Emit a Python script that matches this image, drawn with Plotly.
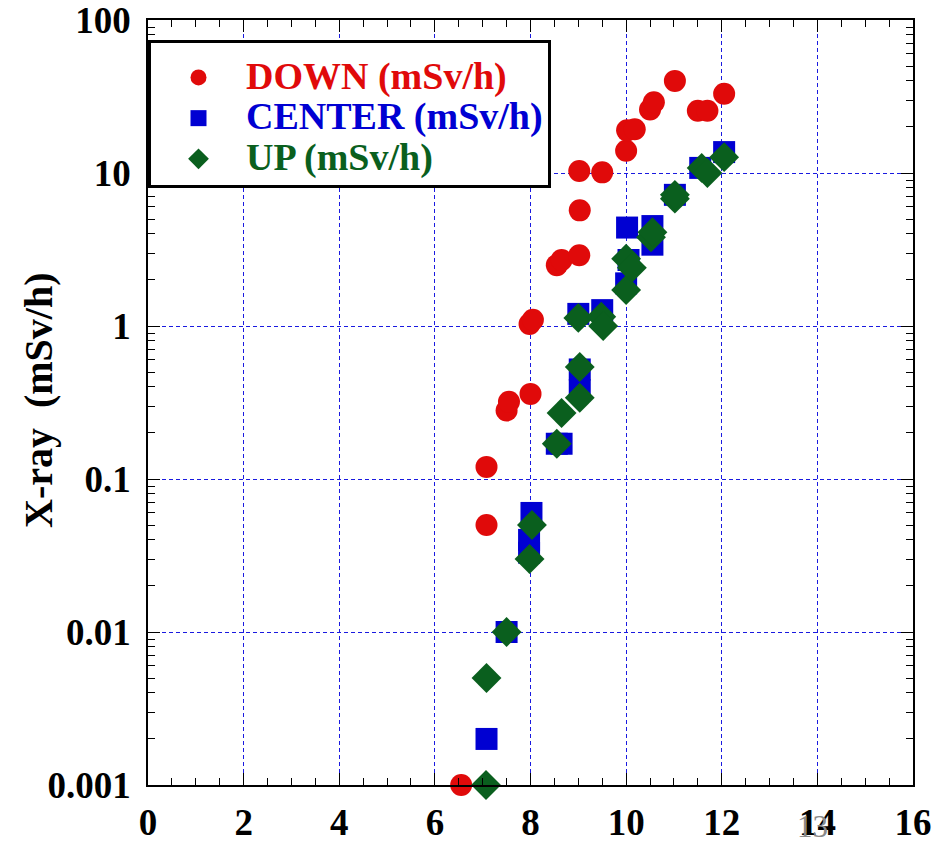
import plotly.graph_objects as go

# ---- data ----
down_x = [6.55, 7.08, 7.08, 7.5, 7.55, 8.0, 7.98, 8.05, 8.55, 8.65, 9.02, 9.03, 9.02,
          9.5, 10.0, 10.02, 10.18, 10.5, 10.58, 11.02, 11.5, 11.7, 12.05]
down_y = [0.001, 0.05, 0.12, 0.28, 0.32, 0.36, 1.03, 1.1, 2.5, 2.7, 2.9, 5.7, 10.3,
          10.1, 14, 19, 19.3, 26, 29, 40, 25.5, 25.5, 33]

center_x = [7.08, 7.5, 7.97, 7.97, 8.02, 8.55, 8.65, 9.03, 9.03, 9.0, 9.5, 10.0,
            10.05, 10.02, 10.55, 10.55, 11.02, 11.55, 12.05]
center_y = [0.002, 0.01, 0.033, 0.04, 0.06, 0.17, 0.17, 0.38, 0.52, 1.2, 1.27, 1.9,
            2.7, 4.4, 4.5, 3.4, 7.2, 10.8, 13.7]

up_x = [7.07, 7.08, 7.5, 7.98, 8.03, 8.55, 8.65, 9.03, 9.03, 9.0, 9.48, 9.52, 10.0,
        10.0, 10.12, 10.52, 10.55, 11.02, 11.02, 11.58, 11.7, 12.05]
up_y = [0.001, 0.005, 0.01, 0.03, 0.05, 0.17, 0.27, 0.34, 0.54, 1.13, 1.15, 1.0, 1.72,
        2.75, 2.4, 3.8, 4.1, 6.8, 7.2, 10.8, 10.0, 12.7]

series_names = ["DOWN (mSv/h)", "CENTER (mSv/h)", "UP (mSv/h)"]
x_tick_vals = [0, 2, 4, 6, 8, 10, 12, 14, 16]
y_tick_vals = [0.001, 0.01, 0.1, 1, 10, 100]
y_tick_text = ["0.001", "0.01", "0.1", "1", "10", "100"]
y_title = "X-ray  (mSv/h)"
page_number = "13"

RED = "#e00a0a"
BLUE = "#0000d2"
GREEN = "#0a5f1e"
FONT = "Liberation Serif"
GRID = "#1a1ae0"

W, H = 939, 843
ML, MR, MT, MB = 148, 26, 20, 58
PW, PH = W - ML - MR, H - MT - MB


def lname(text, color):
    return f'<span style="color:{color};font-size:38px">{text}</span>'


fig = go.Figure()
fig.add_trace(go.Scatter(x=down_x, y=down_y, mode="markers", name=lname(series_names[0], RED),
                         marker=dict(symbol="circle", size=22, color=RED), cliponaxis=False))
fig.add_trace(go.Scatter(x=center_x, y=center_y, mode="markers", name=lname(series_names[1], BLUE),
                         marker=dict(symbol="square", size=22, color=BLUE), cliponaxis=False))
fig.add_trace(go.Scatter(x=up_x, y=up_y, mode="markers", name=lname(series_names[2], GREEN),
                         marker=dict(symbol="diamond", size=23, color=GREEN), cliponaxis=False))

axis_common = dict(
    showline=True, linecolor="black", linewidth=1.5, mirror="ticks",
    ticks="inside", ticklen=12, tickwidth=1, tickcolor="black",
    showgrid=True, gridcolor=GRID, gridwidth=1, griddash="4px,3px",
    zeroline=False, automargin=False, ticklabeloverflow="allow",
    tickfont=dict(family=FONT, size=37, color="black", weight="bold"),
)

fig.update_xaxes(range=[0, 16], tickvals=x_tick_vals, ticklabelstandoff=4,
                 minor=dict(dtick=0.5, ticks="inside", ticklen=7, tickcolor="black", showgrid=False),
                 **axis_common)
fig.update_yaxes(type="log", range=[-3, 2.0001], tickvals=y_tick_vals, ticktext=y_tick_text,
                 ticklabelstandoff=8,
                 minor=dict(ticks="inside", ticklen=7, tickcolor="black", showgrid=False,
                            tickvals=[m * 10 ** e for e in range(-3, 2) for m in range(2, 10)]),
                 **axis_common)

# y-axis title placed as rotated text left of the tick labels
fig.add_annotation(text=y_title, xref="paper", yref="paper",
                   x=(38 - ML) / PW, y=(H - MB - 400) / PH, xanchor="center", yanchor="middle",
                   textangle=-90, showarrow=False,
                   font=dict(family=FONT, size=40, color="black", weight="bold"))

fig.add_annotation(text=page_number, xref="paper", yref="paper",
                   x=(812 - ML) / PW, y=-(826 - (H - MB)) / PH, xanchor="center", yanchor="middle",
                   showarrow=False, font=dict(family=FONT, size=31, color="#8a8a8a"))

fig.update_layout(
    width=W, height=H,
    margin=dict(l=ML, r=MR, t=MT, b=MB),
    plot_bgcolor="white", paper_bgcolor="white",
    showlegend=True,
    legend=dict(x=0, y=1 - 20 / PH, xanchor="left", yanchor="top",
                bgcolor="white", bordercolor="black", borderwidth=3,
                font=dict(family=FONT, size=29, weight="bold"),
                title=dict(text=" ", font=dict(size=7)),
                itemwidth=85, itemsizing="trace"),
)

fig.write_html("out.html")
